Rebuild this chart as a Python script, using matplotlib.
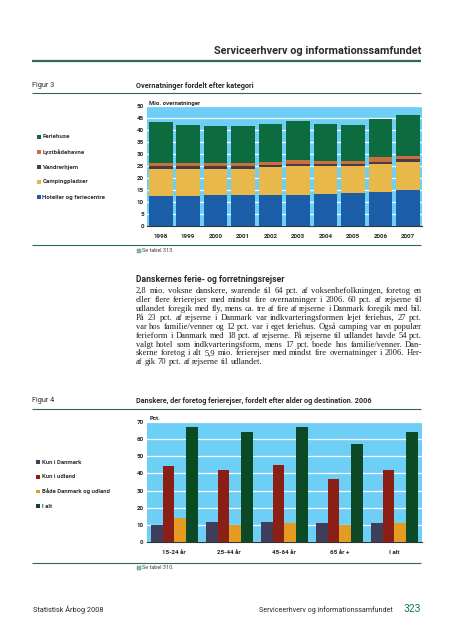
import matplotlib
matplotlib.use('Agg')
import matplotlib.pyplot as plt
import numpy as np
from matplotlib import font_manager
from matplotlib.patches import Rectangle

# ---------------- data ----------------
years = ['1998', '1999', '2000', '2001', '2002', '2003', '2004', '2005', '2006', '2007']
hoteller = [12.8, 12.5, 13.0, 12.9, 13.0, 13.0, 13.3, 13.7, 14.2, 15.0]
camping = [11.1, 11.4, 10.9, 11.0, 11.6, 12.0, 11.7, 11.3, 11.6, 11.7]
vandrerhjem = [1.1, 1.1, 1.1, 1.1, 1.1, 1.1, 1.1, 1.1, 1.1, 1.2]
lystbaade = [1.25, 1.4, 1.4, 1.4, 1.2, 1.5, 1.3, 1.3, 1.85, 1.5]
feriehuse = [17.25, 16.0, 15.5, 15.3, 15.7, 16.15, 15.2, 14.8, 15.85, 16.85]
fig3_labels = ['Feriehuse', 'Lystbådehavne', 'Vandrerhjem', 'Campingpladser',
               'Hoteller og feriecentre']

age_groups = ['15-24 år', '25-44 år', '45-64 år', '65 år +', 'I alt']
kun_dk = [10, 12, 12, 11, 11]
kun_udland = [44, 42, 45, 37, 42]
baade = [14, 10, 11, 10, 11]
i_alt = [67, 64, 67, 57, 64]
fig4_labels = ['Kun i Danmark', 'Kun i udland', 'Både Danmark og udland', 'I alt']

body_lines = [
    "2,8 mio. voksne danskere, svarende til 64 pct. af voksenbefolkningen, foretog en",
    "eller flere ferierejser med mindst fire overnatninger i 2006. 60 pct. af rejserne til",
    "udlandet foregik med fly, mens ca. tre af fire af rejserne i Danmark foregik med bil.",
    "På 23 pct. af rejserne i Danmark var indkvarteringsformen lejet feriehus, 27 pct.",
    "var hos familie/venner og 12 pct. var i eget feriehus. Også camping var en populær",
    "ferieform i Danmark med 18 pct. af rejserne. På rejserne til udlandet havde 54 pct.",
    "valgt hotel som indkvarteringsform, mens 17 pct. boede hos familie/venner. Dan-",
    "skerne foretog i alt 5,9 mio. ferierejser med mindst fire overnatninger i 2006. Her-",
    "af gik 70 pct. af rejserne til udlandet.",
]

# ---------------- style ----------------
W, H, DPI = 453, 640, 100
names = {f.name for f in font_manager.fontManager.ttflist}
SANS = 'Liberation Sans Narrow' if 'Liberation Sans Narrow' in names else 'Roboto'
SERIF = 'Liberation Serif' if 'Liberation Serif' in names else 'DejaVu Serif'

BG = '#6DCFF6'
LINE = '#2B6B55'
TXT = '#2a2a2a'
c3 = {'Hoteller og feriecentre': '#1B5DA6', 'Campingpladser': '#E8B84B',
      'Vandrerhjem': '#4B3B4A', 'Lystbådehavne': '#C9703B', 'Feriehuse': '#0C6B3F'}
c4 = ['#3E3D5A', '#8C1F15', '#E49B22', '#0B4A25']

fig = plt.figure(figsize=(W / DPI, H / DPI), dpi=DPI)
fig.patch.set_facecolor('white')


def rect(l, t, r, b):
    return [l / W, 1 - b / H, (r - l) / W, (b - t) / H]


page = fig.add_axes([0, 0, 1, 1])
page.set_xlim(0, W)
page.set_ylim(H, 0)
page.axis('off')

# header
page.text(421, 50.5, 'Serviceerhverv og informationssamfundet', ha='right', va='center',
          fontsize=7.8, fontweight='bold', family=SANS, color=TXT)
page.plot([32, 421], [61, 61], color=LINE, lw=1.6, solid_capstyle='butt')

# figure titles and rules
for y, fig_lbl, title, fs in [(85.5, 'Figur 3', 'Overnatninger fordelt efter kategori', 5.3),
                              (401, 'Figur 4', 'Danskere, der foretog ferierejser, fordelt efter alder og destination. 2006', 5.2)]:
    page.text(32, y, fig_lbl, ha='left', va='center', fontsize=5.2, family=SANS, color=TXT)
    page.text(136, y, title, ha='left', va='center', fontsize=fs, fontweight='bold',
              family=SANS, color=TXT)
for y in [93, 245, 409, 562.7]:
    page.plot([32, 421], [y, y], color=LINE, lw=0.8, solid_capstyle='butt')

# "Se tabel" notes
for y, txt in [(250.5, 'Se tabel 313.'), (567.7, 'Se tabel 310.')]:
    page.add_patch(Rectangle((136.5, y - 2), 4, 4, facecolor='#7FBF9F', edgecolor='#4E9A78', lw=0.3))
    page.text(142, y, txt, ha='left', va='center', fontsize=4.0, family=SANS, color='#444')

# ---------------- Figure 3 ----------------
ax3 = fig.add_axes(rect(147, 106.3, 421.7, 226.3))
ax3.set_facecolor(BG)
x = np.arange(len(years))
bottom = np.zeros(len(years))
for lbl, vals in [('Hoteller og feriecentre', hoteller), ('Campingpladser', camping),
                  ('Vandrerhjem', vandrerhjem), ('Lystbådehavne', lystbaade),
                  ('Feriehuse', feriehuse)]:
    ax3.bar(x, vals, width=0.86, bottom=bottom, color=c3[lbl], zorder=3, lw=0)
    bottom += np.array(vals)
ax3.set_xlim(-0.5, len(years) - 0.5)
ax3.set_ylim(0, 50)
ax3.set_yticks(range(0, 51, 5))
ax3.set_xticks(x)
ax3.set_xticklabels(years)
ax3.yaxis.grid(True, color='white', lw=0.9)
ax3.set_axisbelow(True)
for s in ['top', 'right', 'left']:
    ax3.spines[s].set_visible(False)
ax3.spines['bottom'].set_color('#333333')
ax3.spines['bottom'].set_linewidth(0.8)
ax3.tick_params(axis='both', length=0, labelsize=4.5, colors=TXT)
ax3.tick_params(axis='y', pad=2.3)
ax3.tick_params(axis='x', pad=5.2)
for t in ax3.get_xticklabels() + ax3.get_yticklabels():
    t.set_family(SANS)
    t.set_fontweight('bold')
page.text(149, 106, 'Mio. overnatninger', ha='left', va='bottom', fontsize=4.3,
          fontweight='bold', family=SANS, color=TXT)

for i, lbl in enumerate(fig3_labels):
    y = 137 + i * 15
    page.add_patch(Rectangle((37, y - 2), 3.8, 3.8, facecolor=c3[lbl], lw=0))
    page.text(42.5, y, lbl, ha='left', va='center', fontsize=4.4, fontweight='bold',
              family=SANS, color='#333333')

# ---------------- body text ----------------
page.text(136, 280, 'Danskernes ferie- og forretningsrejser', ha='left', va='center',
          fontsize=6.2, fontweight='bold', family=SANS, color=TXT)

renderer = fig.canvas.get_renderer()
left_x, right_x = 136, 422


def word_w(s, fs):
    t = page.text(0, 0, s, fontsize=fs, family=SERIF)
    w = t.get_window_extent(renderer).width
    t.remove()
    return w


# font size chosen so that the widest justified line fits with normal spacing
nat = max(word_w(ln, 10.0) for ln in body_lines[:-1])
BODY_FS = 10.0 * (right_x - left_x - 2) / nat

space_w = word_w('a a', BODY_FS) - word_w('aa', BODY_FS)
for k, line in enumerate(body_lines):
    y = 290.7 + k * 8.97
    words = line.split(' ')
    widths = [word_w(wd, BODY_FS) for wd in words]
    if k == len(body_lines) - 1:
        gap = space_w
    else:
        gap = (right_x - left_x - sum(widths)) / (len(words) - 1)
    xx = left_x
    for wd, ww in zip(words, widths):
        page.text(xx, y, wd, ha='left', va='center', fontsize=BODY_FS, family=SERIF,
                  color='#1e1e1e')
        xx += ww + gap

# ---------------- Figure 4 ----------------
ax4 = fig.add_axes(rect(146.7, 421.7, 422, 542.3))
ax4.set_facecolor(BG)
xg = np.arange(len(age_groups))
bw = 0.2125
for j, vals in enumerate([kun_dk, kun_udland, baade, i_alt]):
    ax4.bar(xg + (j - 1.5) * bw, vals, width=bw, color=c4[j], zorder=3, lw=0)
ax4.set_xlim(-0.5, len(age_groups) - 0.5)
ax4.set_ylim(0, 70)
ax4.set_yticks(range(0, 71, 10))
ax4.set_xticks(xg)
ax4.set_xticklabels(age_groups)
ax4.yaxis.grid(True, color='white', lw=0.9)
ax4.set_axisbelow(True)
for s in ['top', 'right', 'left']:
    ax4.spines[s].set_visible(False)
ax4.spines['bottom'].set_color('#333333')
ax4.spines['bottom'].set_linewidth(0.8)
ax4.tick_params(axis='both', length=0, labelsize=4.5, colors=TXT)
ax4.tick_params(axis='y', pad=2.3)
ax4.tick_params(axis='x', pad=5.2)
for t in ax4.get_xticklabels() + ax4.get_yticklabels():
    t.set_family(SANS)
    t.set_fontweight('bold')
page.text(149.5, 421, 'Pct.', ha='left', va='bottom', fontsize=4.3, fontweight='bold',
          family=SANS, color=TXT)

for i, lbl in enumerate(fig4_labels):
    y = 462 + i * 14.7
    page.add_patch(Rectangle((36.3, y - 1.9), 3.7, 3.7, facecolor=c4[i], lw=0))
    page.text(42, y, lbl, ha='left', va='center', fontsize=4.3, fontweight='bold',
              family=SANS, color='#333333')

# ---------------- footer ----------------
page.text(33, 610, 'Statistisk Årbog 2008', ha='left', va='center', fontsize=5.3,
          family=SANS, color=TXT)
page.text(393, 610, 'Serviceerhverv og informationssamfundet', ha='right', va='center',
          fontsize=5.1, family=SANS, color=TXT)
page.text(421, 609.5, '323', ha='right', va='center', fontsize=7.5, family=SANS,
          color='#1E7A5A')

fig.savefig('out.png', dpi=DPI)
